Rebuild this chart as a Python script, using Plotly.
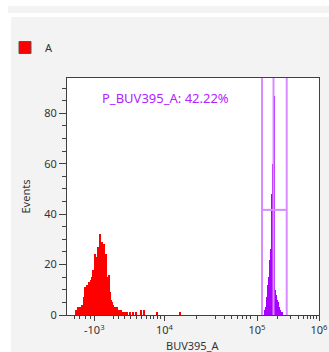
import plotly.graph_objects as go

# ---- data (display channels, 1 channel per display unit) ----
red_channel = [9, 10, 11, 12, 13, 14, 15, 16, 17, 18,
               19, 20, 21, 22, 23, 24, 25, 26, 27, 28,
               29, 30, 31, 32, 33, 34, 35, 36, 37, 38,
               39, 40, 41, 42, 43, 44, 45, 46, 47, 48,
               49, 50, 51, 52, 53, 54, 55, 57, 58, 60,
               63, 66, 69, 74, 77, 90, 113]
red_count = [2, 1, 3, 2, 3, 2, 4, 4, 7, 11,
             10, 12, 11, 13, 12, 14, 15, 18, 16, 24,
             20, 23, 27, 25, 32, 24, 29, 26, 28, 22,
             24, 15, 12, 16, 9, 6, 5, 4, 3, 3,
             2, 3, 2, 2, 1, 2, 1, 1, 1, 1,
             1, 1, 1, 2, 2, 1, 1]

purple_channel = [198, 199, 200, 201, 202, 203, 204, 205, 206,
                  207, 208, 209, 210, 211, 212, 213, 214, 215]
purple_count = [2, 3, 7, 12, 15, 22, 26, 48, 60,
                87, 10, 8, 6, 5, 3, 2, 1, 1]

gate_low = 195
gate_mid = 206.5
gate_high = 219.7
gate_level = 41.7
gate_label = "P_BUV395_A: 42.22%"

x_major_vals = [27.3, 97.5, 190, 252]
x_major_text = ["-10<sup>3</sup>", "10<sup>4</sup>", "10<sup>5</sup>", "10<sup>6</sup>"]
x_minor_vals = [7, 12, 18, 23, 46, 51, 57, 63, 69, 74, 79, 83, 86.5, 90, 93,
                129.7, 148, 157, 164.7, 170, 175, 179, 183,
                210, 223, 231, 236, 240, 243.7, 246.3, 249]
x_dense_vals = [25, 26, 27, 28, 29, 30, 31, 32, 33, 34, 35, 36, 37, 38, 39, 40]
y_major_vals = [0, 20, 40, 60, 80]
x_title = "BUV395_A"
y_title = "Events"

RED = "#ff0000"
PURPLE = "#aa00ff"
GATE = "#d98cff"
TXT = "#333333"
FONT = "Noto Sans"

fig = go.Figure()
fig.add_trace(go.Bar(x=red_channel, y=red_count, width=1, marker=dict(color=RED, line=dict(width=0)),
                     showlegend=False, legendgroup="A"))
fig.add_trace(go.Bar(x=purple_channel, y=purple_count, width=1, marker=dict(color=PURPLE, line=dict(width=0)),
                     showlegend=False))
fig.add_trace(go.Bar(x=[None], y=[None], name="A", legendgroup="A",
                     marker=dict(color=RED, line=dict(color="#555555", width=1))))

# gate
for gx in (gate_low, gate_mid, gate_high):
    fig.add_shape(type="line", x0=gx, x1=gx, y0=0, y1=1, xref="x", yref="y domain",
                  line=dict(color=GATE, width=2))
fig.add_shape(type="line", x0=gate_low, x1=gate_high, y0=gate_level, y1=gate_level, xref="x", yref="y",
              line=dict(color=GATE, width=2))
fig.add_annotation(x=33, y=86, xref="x", yref="y", text=gate_label, showarrow=False,
                   xanchor="left", yanchor="middle", font=dict(family=FONT, size=13, color="#b422ff"))

W, H = 329, 352
L, R, T, B = 67, 10, 78, 37
PW, PH = W - L - R, H - T - B
def cx(px):
    return px / W
def cy(py):
    return 1 - py / H

# axis titles
fig.add_annotation(xref="paper", yref="paper", x=0.5, y=(H - B - 345) / PH, text=x_title, showarrow=False,
                   xanchor="center", yanchor="middle", font=dict(family=FONT, size=11, color=TXT))
fig.add_annotation(xref="paper", yref="paper", x=(25 - L) / PW, y=0.5, text=y_title, showarrow=False,
                   textangle=-90, xanchor="center", yanchor="middle", font=dict(family=FONT, size=11, color=TXT))

# background strips (white page around the grey panel)
bg_shapes = [
    (0, 0, W, 6, "#ffffff"),
    (0, 13, W, 17, "#ffffff"),
    (0, 6, 8, 13, "#ffffff"),
    (0, 17, 11, H, "#ffffff"),
]
fig.update_layout(shapes=list(fig.layout.shapes) + [
    dict(type="rect", xref="paper", yref="paper",
         x0=(a - L) / PW, x1=(c - L) / PW, y0=(H - B - d) / PH, y1=(H - B - b) / PH,
         fillcolor=col, line=dict(width=0), layer="below")
    for (a, b, c, d, col) in bg_shapes])

fig.update_layout(
    width=W, height=H, autosize=False,
    margin=dict(l=L, r=R, t=T, b=B, pad=0, autoexpand=False),
    paper_bgcolor="#f3f3f3", plot_bgcolor="#ffffff",
    bargap=0, barmode="overlay",
    font=dict(family=FONT, size=11, color=TXT),
    showlegend=True,
    legend=dict(xref="container", yref="container", x=cx(5), y=cy(33), xanchor="left", yanchor="top",
                bgcolor="rgba(0,0,0,0)", font=dict(family=FONT, size=11, color=TXT),
                itemwidth=30, tracegroupgap=0),
    xaxis=dict(range=[0, 252], showline=True, linecolor="#404040", linewidth=1, mirror=True,
               ticks="outside", ticklen=5, tickcolor="#404040", tickwidth=1, automargin=False,
               tickmode="array", tickvals=x_major_vals, ticktext=x_major_text,
               minor=dict(tickmode="array", tickvals=x_minor_vals, ticks="outside", ticklen=3, tickcolor="#404040"),
               showgrid=False, zeroline=False, tickfont=dict(family=FONT, size=11, color=TXT)),
    xaxis2=dict(range=[0, 252], overlaying="x", anchor="y", side="bottom", showline=False,
                ticks="outside", ticklen=4, tickwidth=1.5, tickcolor="#111111", automargin=False,
                tickmode="array", tickvals=x_dense_vals, showticklabels=False,
                showgrid=False, zeroline=False),
    yaxis=dict(range=[0, 94], showline=True, linecolor="#404040", linewidth=1, mirror=True,
               ticks="outside", ticklen=7, tickcolor="#404040", tickwidth=1, automargin=False,
               tickmode="array", tickvals=y_major_vals,
               minor=dict(dtick=5, ticks="outside", ticklen=4, tickcolor="#404040"),
               showgrid=False, zeroline=False, tickfont=dict(family=FONT, size=11, color=TXT)),
)

fig.write_html("out.html")
